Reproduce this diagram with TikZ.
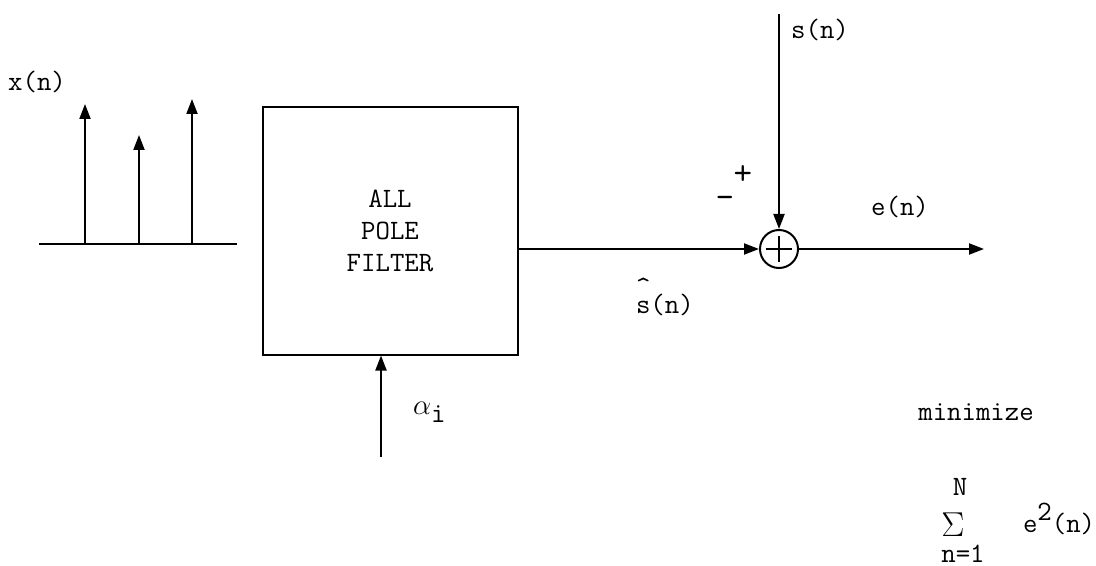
\documentclass[tikz,border=0pt]{standalone}
\usepackage{fontspec}
\usepackage{tikz}
\usetikzlibrary{arrows.meta}

\begin{document}
\begin{tikzpicture}[
    x=0.5pt, y=-0.5pt,
    line width=1pt,
    every node/.style={font=\ttfamily\fontsize{14}{16}\selectfont},
    block/.style={
        draw,
        minimum width=127.5pt,
        minimum height=123.5pt,
        align=center
    },
    adder/.style={
        circle,
        draw,
        minimum size=19pt,
        inner sep=0pt
    },
    arrow/.style={
        -{Triangle[length=7.5pt,width=5.5pt]}
    },
    sig/.style={
        inner sep=0pt
    },
    sign/.style={
        inner sep=0pt,
        font=\ttfamily\fontsize{18}{18}\selectfont
    }
]
    \useasboundingbox (0,0) rectangle (1096,566);

    % input pulse train
    \coordinate (axisL) at (39,244);
    \coordinate (axisR) at (237,244);
    \draw (axisL) -- (axisR);
    \foreach \k/\xp/\tp in {1/85/104, 2/139/135, 3/192/99}{
        \coordinate (pulse\k) at (\xp,\tp);
        \draw[arrow] (pulse\k |- axisL) -- (pulse\k);
    }
    \node[sig] (xin) at (37,82) {x(n)};

    % filter and adder
    \node[block] (filter) at (390,231) {ALL\\POLE\\FILTER};
    \node[adder] (sum) at (779,249) {};
    \draw ([xshift=3.5pt]sum.west) -- ([xshift=-3.5pt]sum.east);
    \draw ([yshift=-3.5pt]sum.north) -- ([yshift=3.5pt]sum.south);

    \coordinate (sref) at (779,14);
    \coordinate (eout) at (984,249);
    \coordinate (alpha) at (381,457);
    \draw[arrow] (sref) -- (sum.north);
    \draw[arrow] (sum.east) -- (eout);
    \draw[arrow] (sum -| filter.east) -- (sum.west);
    \draw[arrow] (alpha) -- (alpha |- filter.south);

    % labels
    \node[sig] (slabel) at (820,30) {s(n)};
    \node[sign] (plus) at (743,175) {+};
    \node[sign] (minus) at (725,202) {-};
    \node[sig] (elabel) at (900,207) {e(n)};
    \node[sig, anchor=base west] (shat) at (635,314)
        {\makebox[0pt][l]{\raisebox{9pt}{\textasciicircum}}s(n)};
    \node[sig, anchor=base west] (alabel) at (412,414)
        {$\alpha$\raisebox{-4pt}{i}};
    \node[sig] (minlabel) at (976,412) {minimize};
    \node[sig] (sumtop) at (960,487) {N};
    \node[sig, font=\fontsize{19}{19}\selectfont] (sumsign) at (953,525) {$\Sigma$};
    \node[sig] (sumbot) at (963,554) {n=1};
    \node[sig, anchor=base west] (esq) at (1022,532)
        {e\raisebox{6pt}{2}(n)};
\end{tikzpicture}
\end{document}
